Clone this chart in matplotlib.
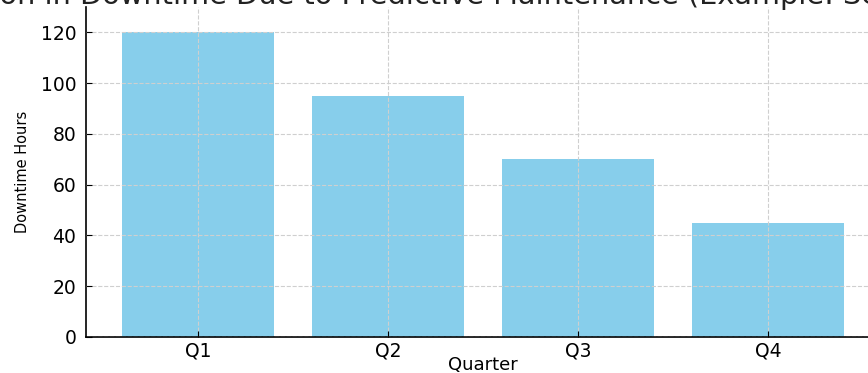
import matplotlib
matplotlib.use("Agg")
import matplotlib.pyplot as plt

quarters = ["Q1", "Q2", "Q3", "Q4"]
downtime_hours = [120, 95, 70, 45]
title = "Reduction in Downtime Due to Predictive Maintenance (Example: Sensor Data)"

fig = plt.figure(figsize=(8.68, 3.73), dpi=100)
ax = fig.add_axes([86/868, 36/373, (880-86)/868, (337-7)/373])

ax.bar(quarters, downtime_hours, color="skyblue", width=0.8, zorder=1)
ax.set_xlim(-0.59, 3.59)
ax.set_ylim(0, 130)
ax.set_yticks([0, 20, 40, 60, 80, 100, 120])
ax.grid(True, linestyle="--", color="#cfcfcf", linewidth=0.8, zorder=3)
ax.set_axisbelow(False)
for s in ["top", "right"]:
    ax.spines[s].set_visible(False)
ax.spines["left"].set_linewidth(1.2)
ax.spines["bottom"].set_linewidth(1.2)
ax.tick_params(direction="in", labelsize=13.5, length=4)
ax.tick_params(axis="y", pad=7)
ax.tick_params(axis="x", pad=3)
ax.set_xlabel("Quarter", fontsize=13)
ax.xaxis.set_label_coords(0.5, -0.058)
ax.set_ylabel("Downtime Hours", fontsize=10.5)
ax.yaxis.set_label_coords(-0.071, 0.5)

fig.text(461/868, 1 - 4/373, title, ha="center", va="baseline", fontsize=20.7, color="#222222")

fig.savefig("out.png", dpi=100)
